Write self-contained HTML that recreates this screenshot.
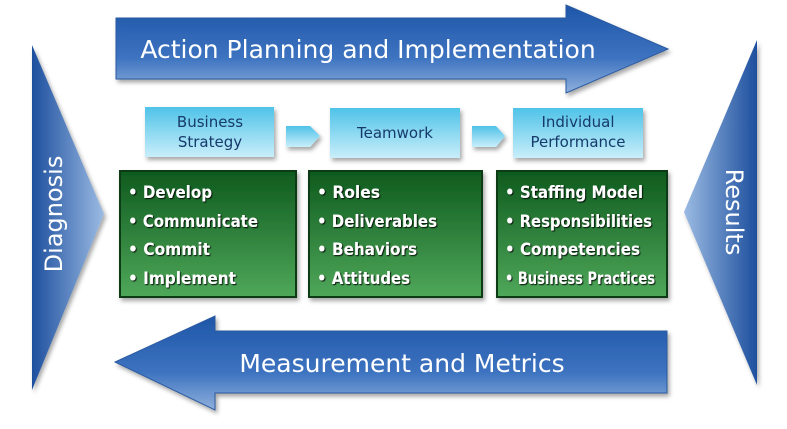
<!DOCTYPE html>
<html><head><meta charset="utf-8"><style>
html,body{margin:0;padding:0;background:#fff;}
svg{display:block;}
text{font-family:"DejaVu Sans","Liberation Sans",sans-serif;}
</style></head><body>
<svg width="787" height="429" viewBox="0 0 787 429" xmlns="http://www.w3.org/2000/svg">
<defs>
<linearGradient id="hb" x1="0" y1="0" x2="0" y2="1">
<stop offset="0" stop-color="#1f56a8"/><stop offset="0.6" stop-color="#3d73c0"/><stop offset="1" stop-color="#8fb0dc"/></linearGradient>
<linearGradient id="lt" x1="0" y1="0" x2="1" y2="0">
<stop offset="0" stop-color="#1d4f9e"/><stop offset="1" stop-color="#9bbbe3"/></linearGradient>
<linearGradient id="rt" x1="1" y1="0" x2="0" y2="0">
<stop offset="0" stop-color="#1d4f9e"/><stop offset="1" stop-color="#9bbbe3"/></linearGradient>
<linearGradient id="lb" x1="0" y1="0" x2="0" y2="1">
<stop offset="0" stop-color="#4fc3e8"/><stop offset="1" stop-color="#c9eefa"/></linearGradient>
<linearGradient id="gr" x1="0" y1="0" x2="0" y2="1">
<stop offset="0" stop-color="#0f5a1e"/><stop offset="1" stop-color="#4fa85a"/></linearGradient>
<filter id="sh" x="-10%" y="-10%" width="130%" height="140%"><feDropShadow dx="2" dy="3" stdDeviation="2" flood-color="#000" flood-opacity="0.35"/></filter>
<filter id="ts"><feDropShadow dx="1" dy="1" stdDeviation="0.6" flood-color="#000" flood-opacity="0.9"/></filter>
</defs>
<polygon filter="url(#sh)" points="116,18 566,18 566,5 668,49 566,93 566,79 116,79" fill="url(#hb)" stroke="#2a5aa0" stroke-width="1"/>
<text x="368" y="58" font-size="25" fill="#fff" text-anchor="middle">Action Planning and Implementation</text>
<polygon filter="url(#sh)" points="667,331 215,331 215,316 115,362 215,410 215,393 667,393" fill="url(#hb)" stroke="#2a5aa0" stroke-width="1"/>
<text x="402" y="372" font-size="25" fill="#fff" text-anchor="middle">Measurement and Metrics</text>
<polygon filter="url(#sh)" points="32,45 104,214 32,390" fill="url(#lt)"/>
<text transform="translate(62,214) rotate(-90)" font-size="24" fill="#fff" text-anchor="middle">Diagnosis</text>
<polygon filter="url(#sh)" points="757,40 684,212 757,385" fill="url(#rt)"/>
<text transform="translate(726,212) rotate(90)" font-size="24" fill="#fff" text-anchor="middle">Results</text>
<g filter="url(#sh)" fill="url(#lb)">
<rect x="145" y="107" width="129" height="50"/>
<rect x="330" y="108" width="130" height="50"/>
<rect x="513" y="108" width="130" height="50"/>
<polygon points="286,126 310,126 320,136 310,147 286,147"/>
<polygon points="472,126 496,126 505,136 496,147 472,147"/>
</g>
<g font-size="15" fill="#163a6a" text-anchor="middle">
<text x="210" y="127">Business</text><text x="210" y="147">Strategy</text>
<text x="395" y="138">Teamwork</text>
<text x="578" y="127">Individual</text><text x="578" y="147">Performance</text>
</g>
<g filter="url(#sh)" fill="url(#gr)" stroke="#083a12" stroke-width="2">
<rect x="120" y="171" width="176" height="126"/>
<rect x="309" y="171" width="173" height="126"/>
<rect x="497" y="171" width="170" height="126"/>
</g>
<g font-size="17" font-weight="bold" fill="#fff" filter="url(#ts)" lengthAdjust="spacingAndGlyphs">
<text x="128" y="198" textLength="84" lengthAdjust="spacingAndGlyphs">• Develop</text>
<text x="128" y="227" textLength="130" lengthAdjust="spacingAndGlyphs">• Communicate</text>
<text x="128" y="255" textLength="82" lengthAdjust="spacingAndGlyphs">• Commit</text>
<text x="128" y="284" textLength="108" lengthAdjust="spacingAndGlyphs">• Implement</text>
<text x="317" y="198" textLength="63" lengthAdjust="spacingAndGlyphs">• Roles</text>
<text x="317" y="227" textLength="120" lengthAdjust="spacingAndGlyphs">• Deliverables</text>
<text x="317" y="255" textLength="100" lengthAdjust="spacingAndGlyphs">• Behaviors</text>
<text x="317" y="284" textLength="93" lengthAdjust="spacingAndGlyphs">• Attitudes</text>
<text x="505" y="198" textLength="138" lengthAdjust="spacingAndGlyphs">• Staffing Model</text>
<text x="505" y="227" textLength="147" lengthAdjust="spacingAndGlyphs">• Responsibilities</text>
<text x="505" y="255" textLength="135" lengthAdjust="spacingAndGlyphs">• Competencies</text>
<text x="505" y="284" textLength="150" lengthAdjust="spacingAndGlyphs">• Business Practices</text>
</g>
</svg>
</body></html>
